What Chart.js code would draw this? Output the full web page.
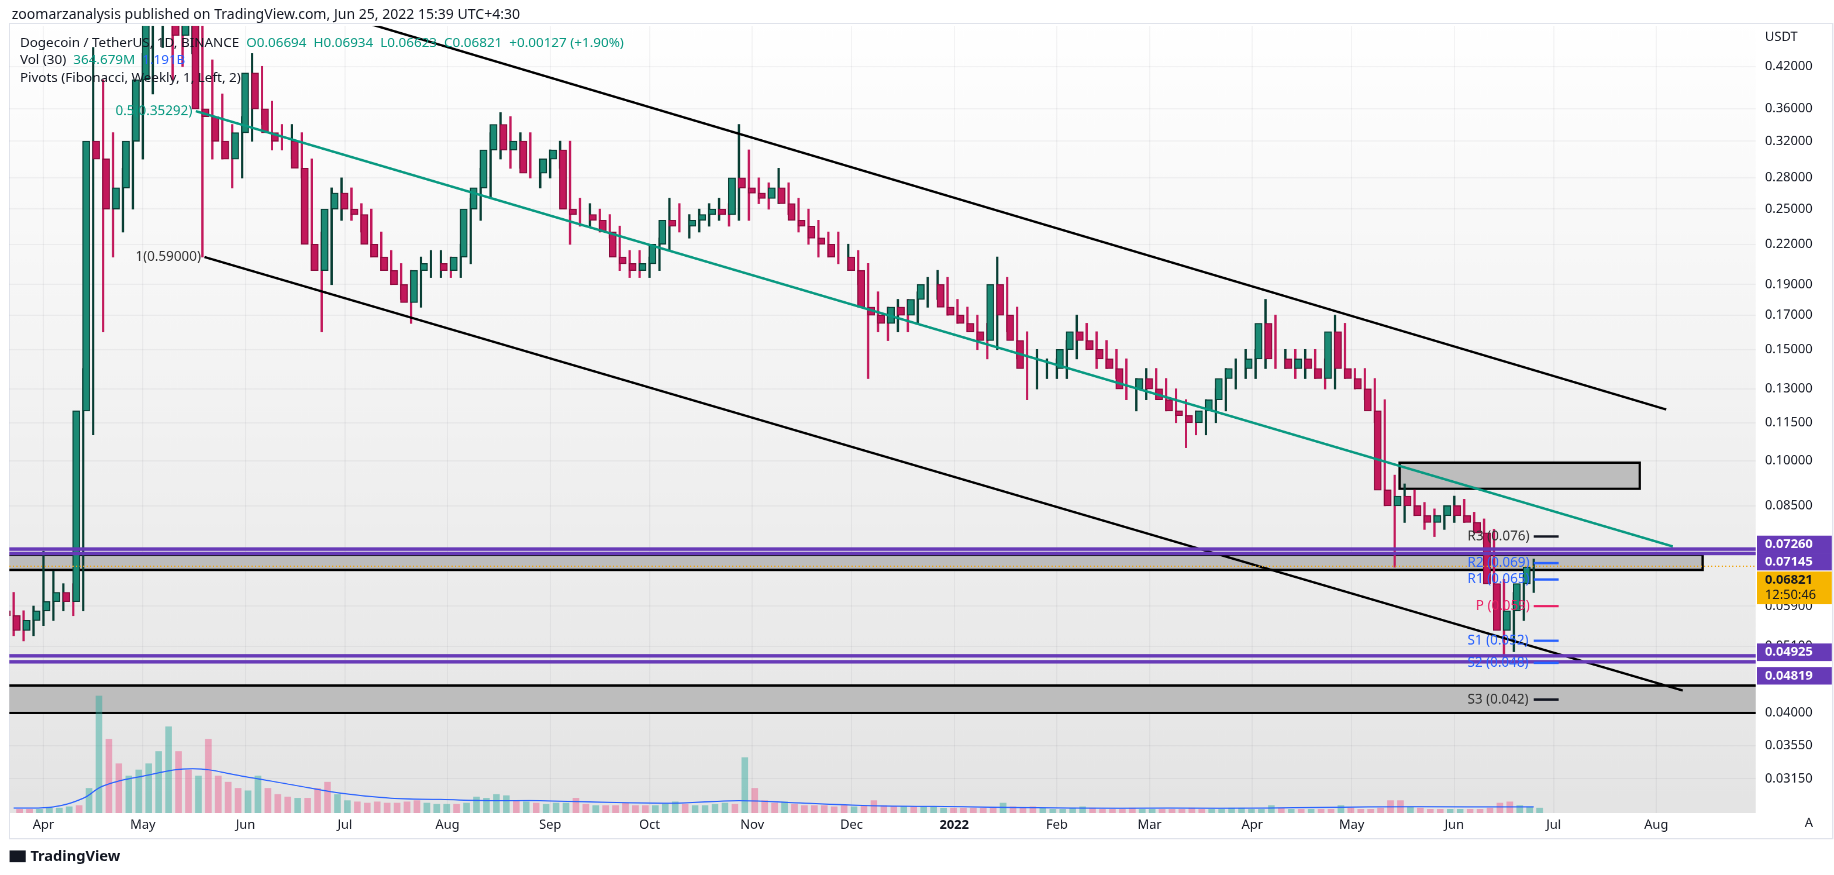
<!DOCTYPE html>
<html>
<head>
<meta charset="utf-8">
<script src="https://cdn.jsdelivr.net/npm/chart.js@4.4.0/dist/chart.umd.min.js"></script>
<style>
  body { margin: 0; overflow: hidden; background: #fff; }
  #wrap { position: absolute; left: 0; top: 0; width: 1568px; height: 748px; transform: scale(1.16964, 1.16979); transform-origin: 0 0; font-family: "Noto Sans", "DejaVu Sans", sans-serif; color: #131722; }
  #wrap canvas { position: absolute; left: 0; top: 0; }
  .t { position: absolute; white-space: nowrap; font-size: 11.5px; }
  .g { color: #089981; }
  .b { color: #2962ff; }
</style>
</head>
<body>
<div id="wrap">
  <canvas id="c" width="1568" height="748"></canvas>
  <div class="t" style="left:10px;top:3px;font-size:12px">zoomarzanalysis published on TradingView.com, Jun 25, 2022 15:39 UTC+4:30</div>
  <div class="t" style="left:17px;top:28px">Dogecoin / TetherUS, 1D, BINANCE&nbsp; <span class="g">O0.06694&nbsp; H0.06934&nbsp; L0.06623&nbsp; C0.06821&nbsp; +0.00127 (+1.90%)</span></div>
  <div class="t" style="left:17px;top:43px">Vol (30)&nbsp; <span class="g">364.679M</span>&nbsp; <span class="b">1.191B</span></div>
  <div class="t" style="left:17px;top:58px">Pivots (Fibonacci, Weekly, 1, Left, 2)</div>
  <div class="t" style="left:8px;top:723px;font-size:12.5px;font-weight:bold;color:#131722"><span style="display:inline-block;width:14px;height:10px;background:#131722;margin-right:4px;vertical-align:-1px"></span>TradingView</div>
</div>
<script>
// 3-day candles, day 0 = 22 Mar 2021
const closes = [0.057,0.054,0.056,0.058,0.060,0.062,0.060,0.12,0.32,0.30,0.25,0.27,0.32,0.40,0.50,0.62,0.50,0.47,0.50,0.36,
  0.35,0.32,0.30,0.33,0.41,0.36,0.33,0.32,0.32,0.29,0.22,0.20,0.25,0.265,0.25,0.245,0.22,0.21,0.20,0.19,
  0.178,0.20,0.205,0.205,0.20,0.21,0.25,0.27,0.31,0.34,0.31,0.32,0.285,0.285,0.30,0.31,0.25,0.245,0.245,0.24,
  0.23,0.21,0.205,0.20,0.205,0.22,0.24,0.235,0.235,0.24,0.245,0.25,0.245,0.28,0.27,0.265,0.26,0.27,0.255,0.24,
  0.235,0.225,0.22,0.21,0.21,0.20,0.175,0.17,0.165,0.175,0.17,0.18,0.19,0.19,0.175,0.17,0.165,0.16,0.155,0.19,
  0.17,0.155,0.14,0.14,0.14,0.14,0.15,0.16,0.155,0.15,0.145,0.14,0.13,0.13,0.135,0.13,0.125,0.12,0.118,0.115,
  0.12,0.125,0.135,0.14,0.14,0.145,0.165,0.145,0.145,0.14,0.145,0.14,0.135,0.16,0.14,0.135,0.13,0.12,0.09,0.085,
  0.088,0.085,0.082,0.08,0.082,0.085,0.082,0.08,0.077,0.064,0.054,0.058,0.064,0.068];
const highs = [0.062,0.058,0.059,0.072,0.067,0.064,0.064,0.14,0.45,0.40,0.33,0.29,0.35,0.44,0.55,0.74,0.66,0.56,0.52,0.52,
  0.43,0.38,0.34,0.35,0.44,0.42,0.37,0.34,0.34,0.33,0.30,0.23,0.27,0.28,0.27,0.255,0.25,0.23,0.215,0.205,
  0.20,0.21,0.215,0.215,0.21,0.22,0.26,0.29,0.33,0.355,0.35,0.33,0.33,0.30,0.31,0.32,0.32,0.26,0.255,0.25,
  0.245,0.235,0.215,0.215,0.21,0.225,0.26,0.255,0.245,0.25,0.255,0.26,0.255,0.34,0.31,0.28,0.275,0.29,0.275,0.26,
  0.25,0.24,0.23,0.23,0.22,0.215,0.205,0.185,0.175,0.18,0.18,0.185,0.195,0.20,0.195,0.18,0.175,0.17,0.165,0.21,
  0.195,0.175,0.16,0.15,0.145,0.145,0.155,0.17,0.165,0.16,0.155,0.15,0.145,0.135,0.14,0.14,0.135,0.13,0.125,0.12,
  0.125,0.13,0.14,0.145,0.15,0.15,0.18,0.17,0.15,0.15,0.15,0.15,0.145,0.17,0.165,0.14,0.14,0.135,0.125,0.095,
  0.092,0.09,0.086,0.084,0.085,0.088,0.087,0.083,0.081,0.078,0.065,0.062,0.066,0.070];
const lows = [0.053,0.052,0.053,0.055,0.056,0.058,0.057,0.058,0.11,0.16,0.21,0.23,0.25,0.30,0.38,0.45,0.40,0.42,0.44,0.21,
  0.30,0.30,0.27,0.28,0.32,0.34,0.31,0.31,0.30,0.28,0.20,0.16,0.19,0.24,0.24,0.23,0.21,0.20,0.19,0.18,
  0.165,0.175,0.195,0.195,0.195,0.195,0.205,0.24,0.26,0.30,0.29,0.29,0.28,0.27,0.28,0.29,0.22,0.235,0.235,0.23,
  0.225,0.20,0.195,0.195,0.195,0.20,0.215,0.23,0.225,0.23,0.235,0.24,0.235,0.24,0.24,0.255,0.25,0.255,0.245,0.23,
  0.22,0.21,0.21,0.205,0.20,0.19,0.135,0.16,0.155,0.16,0.16,0.165,0.175,0.18,0.17,0.165,0.16,0.15,0.145,0.15,
  0.16,0.145,0.125,0.13,0.135,0.135,0.135,0.145,0.15,0.14,0.14,0.135,0.125,0.12,0.125,0.125,0.12,0.115,0.105,0.11,
  0.11,0.115,0.12,0.13,0.135,0.135,0.14,0.14,0.14,0.135,0.135,0.135,0.13,0.13,0.135,0.13,0.125,0.115,0.085,0.068,
  0.08,0.082,0.078,0.076,0.078,0.08,0.08,0.078,0.074,0.06,0.049,0.05,0.056,0.062];
const firstOpen = 0.058;
const volumes = [0.3,0.3,0.3,0.4,0.4,0.5,0.6,2.0,9.5,6.0,4.0,3.0,3.5,4.0,5.0,7.0,5.0,3.5,3.0,6.0,
  3.0,2.5,2.0,1.8,3.0,2.0,1.5,1.3,1.2,1.2,2.0,2.5,1.5,1.0,0.9,0.8,0.9,0.8,0.8,0.9,
  1.0,0.8,0.7,0.7,0.7,0.8,1.3,1.2,1.5,1.4,1.0,0.9,0.8,0.7,0.8,0.8,1.2,0.7,0.6,0.6,
  0.6,0.8,0.6,0.6,0.6,0.7,0.9,0.7,0.6,0.6,0.7,0.8,0.7,4.5,2.0,1.0,0.8,0.9,0.7,0.6,
  0.6,0.6,0.5,0.6,0.5,0.6,1.0,0.6,0.5,0.5,0.5,0.5,0.5,0.4,0.4,0.4,0.4,0.4,0.4,0.8,
  0.5,0.4,0.5,0.4,0.3,0.3,0.4,0.5,0.4,0.3,0.3,0.3,0.4,0.3,0.3,0.3,0.3,0.3,0.4,0.3,
  0.3,0.3,0.4,0.4,0.3,0.3,0.6,0.4,0.3,0.3,0.3,0.3,0.3,0.6,0.4,0.3,0.3,0.4,1.0,1.0,
  0.5,0.4,0.3,0.3,0.3,0.3,0.3,0.3,0.4,0.8,0.9,0.6,0.5,0.4];
const maDays = [1,13,22,28,40,55,70,85,100,115,130,145,160,175,200,220,240,260,290,320,350,380,410,440,460];
const maVals = [0.4,0.5,1.2,2.2,3.0,3.6,3.0,2.3,1.6,1.2,1.1,1.0,1.0,0.9,0.8,1.0,0.8,0.6,0.5,0.4,0.4,0.4,0.5,0.5,0.5];

const monthDays = [10,40,71,101,132,163,193,224,254,285,316,344,375,405,436,466,497];
const monthNames = ["Apr","May","Jun","Jul","Aug","Sep","Oct","Nov","Dec","2022","Feb","Mar","Apr","May","Jun","Jul","Aug"];
const priceTicks = [0.42,0.36,0.32,0.28,0.25,0.22,0.19,0.17,0.15,0.13,0.115,0.1,0.085,0.059,0.051,0.04,0.0355,0.0315];

const channelUpper = [[103,0.50],[500,0.1206]];
const channelMid = [[56,0.357],[502,0.0733]];
const channelLower = [[58.6,0.21],[505,0.0434]];
const zoneUpper = [419.5,492,0.0904,0.0994];
const zoneMid = [-1,511,0.0673,0.0711];
const zoneLow = [-1,530,0.0400,0.0442];
const purpleLevels = [0.0726,0.07145,0.04925,0.04819];
const pivotNames = ["R3","R2","R1","P","S1","S2","S3"];
const pivotVals = [0.076,0.069,0.065,0.059,0.052,0.048,0.042];
const pivotColors = ["#131722","#2962ff","#2962ff","#e91e63","#2962ff","#2962ff","#131722"];
const lastPrice = 0.06821;

const UP = "#1b8a74", UPB = "#073d33", DN = "#c2185b", DNB = "#8a0a3c";
const opens = closes.map((c, i) => i === 0 ? firstOpen : closes[i - 1]);
const xs = closes.map((c, i) => 3 * i + 1);
const isUp = closes.map((c, i) => c >= opens[i]);

const bgPlugin = {
  id: "bg",
  beforeDraw(chart) {
    const { ctx, chartArea: a } = chart;
    const g = ctx.createLinearGradient(0, a.top, 0, a.bottom);
    g.addColorStop(0, "#ffffff");
    g.addColorStop(1, "#e4e4e4");
    ctx.save();
    ctx.fillStyle = g;
    ctx.fillRect(a.left, a.top, a.right - a.left, a.bottom - a.top);
    ctx.strokeStyle = "#e0e3eb";
    ctx.strokeRect(a.left, a.top - 2, chart.width - a.left - 1, a.bottom - a.top + 24);
    ctx.restore();
  },
  beforeDatasetsDraw(chart) {
    const { ctx, chartArea: a, scales: { x, y } } = chart;
    ctx.save();
    ctx.beginPath(); ctx.rect(a.left, a.top, a.right - a.left, a.bottom - a.top); ctx.clip();
    [zoneUpper, zoneMid, zoneLow].forEach(z => {
      const x0 = x.getPixelForValue(z[0]), x1 = x.getPixelForValue(z[1]);
      const y0 = y.getPixelForValue(z[3]), y1 = y.getPixelForValue(z[2]);
      ctx.fillStyle = "#bdbdbd";
      ctx.fillRect(x0, y0, x1 - x0, y1 - y0);
      ctx.strokeStyle = "#000"; ctx.lineWidth = 2;
      ctx.strokeRect(x0, y0, x1 - x0, y1 - y0);
    });
    ctx.restore();
  },
  afterDatasetsDraw(chart) {
    const { ctx, chartArea: a, scales: { x, y } } = chart;
    ctx.save();
    ctx.beginPath(); ctx.rect(a.left, a.top, a.right - a.left, a.bottom - a.top); ctx.clip();
    const seg = (p, col, w) => {
      ctx.strokeStyle = col; ctx.lineWidth = w;
      ctx.beginPath();
      ctx.moveTo(x.getPixelForValue(p[0][0]), y.getPixelForValue(p[0][1]));
      ctx.lineTo(x.getPixelForValue(p[1][0]), y.getPixelForValue(p[1][1]));
      ctx.stroke();
    };
    seg(channelUpper, "#000", 2);
    seg(channelLower, "#000", 2);
    seg(channelMid, "#089981", 2);
    purpleLevels.forEach(v => {
      const py = y.getPixelForValue(v);
      ctx.strokeStyle = "#673ab7"; ctx.lineWidth = 3;
      ctx.beginPath(); ctx.moveTo(a.left, py); ctx.lineTo(a.right, py); ctx.stroke();
    });
    const lp = y.getPixelForValue(lastPrice);
    ctx.setLineDash([1, 2]); ctx.strokeStyle = "#f0a30a"; ctx.lineWidth = 1;
    ctx.beginPath(); ctx.moveTo(a.left, lp); ctx.lineTo(a.right, lp); ctx.stroke();
    ctx.setLineDash([]);
    ctx.font = "11.5px 'Noto Sans', sans-serif";
    ctx.textBaseline = "middle";
    pivotVals.forEach((v, i) => {
      const py = y.getPixelForValue(v);
      ctx.strokeStyle = pivotColors[i]; ctx.lineWidth = 2;
      ctx.beginPath(); ctx.moveTo(x.getPixelForValue(460), py); ctx.lineTo(x.getPixelForValue(467.5), py); ctx.stroke();
      ctx.fillStyle = pivotColors[i] === "#131722" ? "#333" : pivotColors[i];
      ctx.textAlign = "left";
      ctx.fillText(pivotNames[i] + " (" + v.toFixed(3) + ")", x.getPixelForValue(pivotNames[i] === "P" ? 442.5 : 440), py);
    });
    ctx.textAlign = "right";
    ctx.fillStyle = "#089981";
    ctx.fillText("0.5(0.35292)", x.getPixelForValue(channelMid[0][0]) - 3, y.getPixelForValue(channelMid[0][1]));
    ctx.fillStyle = "#333";
    ctx.fillText("1(0.59000)", x.getPixelForValue(channelLower[0][0]) - 3, y.getPixelForValue(channelLower[0][1]));
    ctx.restore();
  },
  afterDraw(chart) {
    const { ctx, chartArea: a, scales: { y } } = chart;
    ctx.save();
    ctx.font = "11px 'Noto Sans', sans-serif";
    ctx.textBaseline = "middle"; ctx.textAlign = "left";
    ctx.fillStyle = "#131722";
    ctx.fillText("USDT", a.right + 8, a.top + 10);
    ctx.fillText("A", a.right + 42, a.bottom + 9);
    const tags = [[0.0726, -4, 15], [0.07145, 7, 15], [0.06821, 12, 28], [0.04925, -3, 15], [0.04819, 12, 15]];
    tags.forEach(([v, dy, h]) => {
      const cy = y.getPixelForValue(v) + dy;
      const gold = v === lastPrice;
      ctx.fillStyle = gold ? "#f6b500" : "#673ab7";
      ctx.fillRect(a.right + 1, cy - 7.5, 64, h);
      ctx.fillStyle = gold ? "#131722" : "#fff";
      ctx.font = "bold 11px 'Noto Sans', sans-serif";
      ctx.fillText(v.toFixed(5), a.right + 8, cy);
      if (gold) { ctx.font = "11px 'Noto Sans', sans-serif"; ctx.fillText("12:50:46", a.right + 8, cy + 13); }
    });
    ctx.restore();
  }
};

new Chart(document.getElementById("c"), {
  type: "bar",
  data: {
    datasets: [
      { data: xs.map((d, i) => ({ x: d, y: volumes[i] })), yAxisID: "yv", order: 5, barThickness: 5,
        backgroundColor: isUp.map(u => u ? "rgba(38,166,154,0.45)" : "rgba(236,64,122,0.4)") },
      { type: "line", data: maDays.map((d, i) => ({ x: d, y: maVals[i] })), yAxisID: "yv", order: 4,
        borderColor: "#2962ff", borderWidth: 1, pointRadius: 0, tension: 0.4 },
      { data: xs.map((d, i) => ({ x: d, y: [lows[i], highs[i]] })), yAxisID: "y", order: 2, barThickness: 1.3,
        backgroundColor: isUp.map(u => u ? UPB : DN) },
      { data: xs.map((d, i) => ({ x: d, y: [opens[i], closes[i]] })), yAxisID: "y", order: 1, barThickness: 6,
        backgroundColor: isUp.map(u => u ? UP : DN), borderColor: isUp.map(u => u ? UPB : DNB),
        borderWidth: 1, borderSkipped: false }
    ]
  },
  options: {
    responsive: false,
    animation: false,
    devicePixelRatio: 2,
    layout: { padding: { left: 8, top: 22, right: 1, bottom: 31 } },
    plugins: { legend: { display: false }, tooltip: { enabled: false } },
    scales: {
      x: {
        type: "linear", min: -0.3, max: 527, offset: false,
        afterBuildTicks: s => { s.ticks = monthDays.map(v => ({ value: v })); },
        afterFit: s => { s.height = 22; },
        ticks: {
          color: "#131722", maxRotation: 0, autoSkip: false, padding: 4,
          callback: v => monthNames[monthDays.indexOf(v)],
          font: c => ({ size: 11, family: "'Noto Sans', sans-serif", weight: c.tick && c.tick.value === 285 ? "bold" : "normal" })
        },
        grid: { color: "rgba(42,46,57,0.05)", drawTicks: false, offset: false },
        border: { display: false }
      },
      y: {
        type: "logarithmic", position: "right", min: 0.0278, max: 0.487,
        afterBuildTicks: s => { s.ticks = priceTicks.map(v => ({ value: v })); },
        afterFit: s => { s.width = 66; },
        ticks: { color: "#131722", padding: 8, font: { size: 11, family: "'Noto Sans', sans-serif" }, callback: v => v.toFixed(5) },
        grid: { color: "rgba(42,46,57,0.05)", drawTicks: false },
        border: { display: false }
      },
      yv: { display: false, min: 0, max: 64 }
    }
  },
  plugins: [bgPlugin]
});
</script>
</body>
</html>
